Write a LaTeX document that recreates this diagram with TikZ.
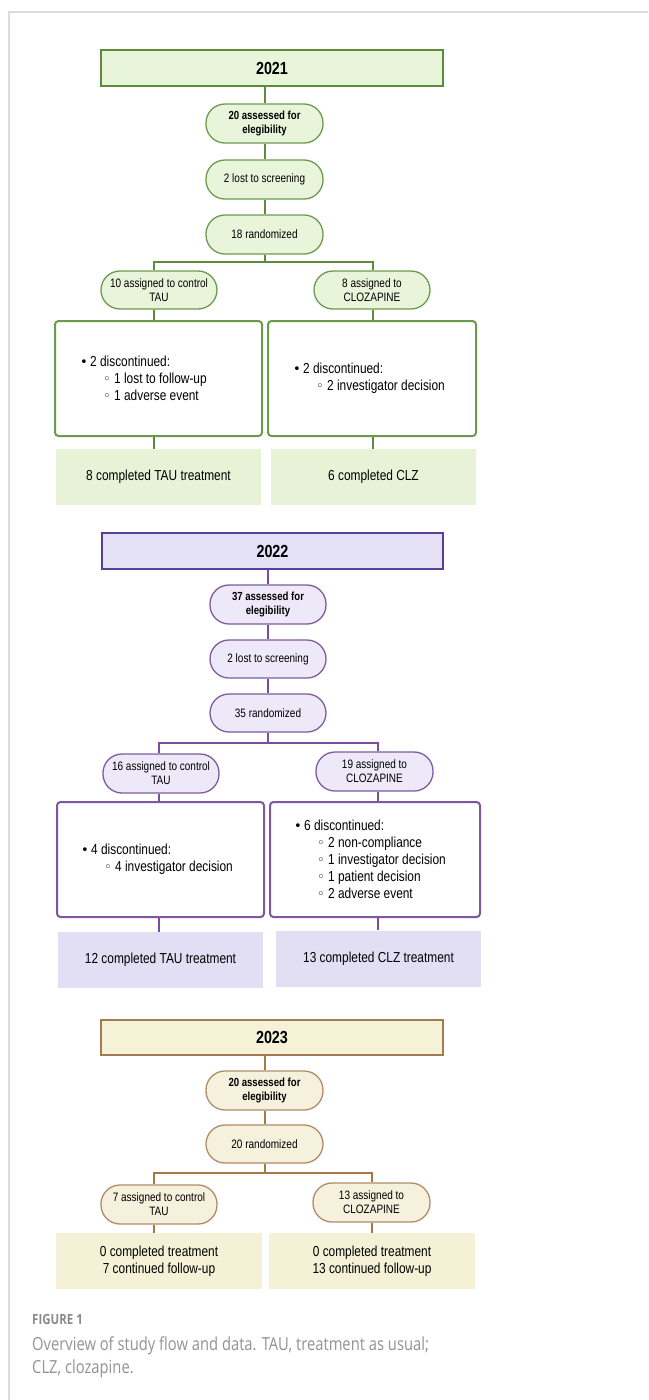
\documentclass[tikz,border=0pt]{standalone}
\usepackage{fontspec}
\setmainfont[FakeStretch=0.82]{Liberation Sans}
\newfontfamily\capfont[FakeStretch=0.82]{Open Sans}
\newfontfamily\symfont{DejaVu Sans}
\definecolor{gHd}{HTML}{5E8A3C}
\definecolor{gHf}{HTML}{E9F5DA}
\definecolor{gPb}{HTML}{6E9A4E}
\definecolor{gBb}{HTML}{6A9A4A}
\definecolor{gCf}{HTML}{E7F2D7}
\definecolor{pHd}{HTML}{5B3F96}
\definecolor{pHf}{HTML}{E4E0F6}
\definecolor{pPf}{HTML}{EEE9F8}
\definecolor{pPb}{HTML}{7D5C9F}
\definecolor{pLn}{HTML}{7A4E9C}
\definecolor{pBb}{HTML}{7E57A2}
\definecolor{pCf}{HTML}{E2DFF4}
\definecolor{bHd}{HTML}{A27B52}
\definecolor{bHf}{HTML}{F5F2D8}
\definecolor{bPf}{HTML}{F6F1DC}
\definecolor{bPb}{HTML}{B08C68}
\definecolor{bLn}{HTML}{A57845}
\definecolor{bCf}{HTML}{F4F1D6}
\definecolor{frameg}{HTML}{DCDCDC}
\definecolor{capA}{HTML}{8A8A8A}
\definecolor{capB}{HTML}{939393}
\newcommand{\Lb}[1]{\makebox[10pt][l]{\symfont\fontsize{13}{13}\selectfont •}#1}
\newcommand{\Ls}[1]{\hspace*{23pt}\makebox[11pt][l]{\symfont\fontsize{13}{13}\selectfont ◦}#1}
\tikzset{
 hdr/.style={draw, line width=2pt, minimum width=342pt, minimum height=36pt, inner sep=0pt, font=\bfseries\fontsize{17.5}{20}\selectfont},
 pill/.style={draw, line width=1.3pt, rounded corners=19pt, minimum width=117pt, minimum height=39pt, inner sep=0pt, align=center, font=\fontsize{12.2}{14}\selectfont},
 bpill/.style={pill, font=\bfseries\fontsize{11.7}{14}\selectfont},
 bigbox/.style={draw, line width=2pt, rounded corners=3.5pt, minimum width=207pt, minimum height=115pt, inner sep=0pt},
 lst/.style={align=left, inner sep=0pt, font=\fontsize{14.5}{17}\selectfont},
 done/.style={minimum width=205pt, minimum height=56pt, inner sep=0pt, align=center, font=\fontsize{14.5}{16.5}\selectfont},
 conn/.style={line width=2pt},
}
\begin{document}
\begin{tikzpicture}[x=1pt,y=-1pt]
\useasboundingbox (0,0) rectangle (648,1400);
\fill[white] (0,0) rectangle (648,1400);
\draw[line width=1.5pt, frameg] (9,1400) -- (9,12) -- (648,12);

% ---------- 2021 ----------
\node[hdr, draw=gHd, fill=gHf] (h1) at (272,68) {2021};
\node[bpill, draw=gPb, fill=gHf] (a1) at (264.5,123.5) {20 assessed for\\elegibility};
\node[pill, draw=gPb, fill=gHf] (s1) at (264.5,179.5) {2 lost to screening};
\node[pill, draw=gPb, fill=gHf] (r1) at (264.5,234.5) {18 randomized};
\node[pill, draw=gPb, fill=gHf, minimum width=116pt, minimum height=38pt] (t1) at (159,290) {10 assigned to control\\TAU};
\node[pill, draw=gPb, fill=gHf, minimum width=116pt, minimum height=38pt] (z1) at (372,290) {8 assigned to\\CLOZAPINE};
\node[bigbox, draw=gBb] (d1L) at (158.5,378.5) {};
\node[bigbox, draw=gBb, minimum width=208pt] (d1R) at (372,378.5) {};
\node[lst, anchor=west] (x1L) at ([xshift=26pt]d1L.west) {\Lb{2 discontinued:}\\\Ls{1 lost to follow-up}\\\Ls{1 adverse event}};
\node[lst, anchor=west] (x1R) at ([xshift=26pt]d1R.west) {\Lb{2 discontinued:}\\\Ls{2 investigator decision}};
\node[done, fill=gCf] (c1L) at (158.5,477) {8 completed TAU treatment};
\node[done, fill=gCf] (c1R) at (373.5,477) {6 completed CLZ};
\coordinate (j1L) at (154,262);
\coordinate (j1R) at (373,262);
\begin{scope}[conn, draw=gHd]
\draw (a1.north |- h1.south) -- (a1.north);
\draw (a1) -- (s1);
\draw (s1) -- (r1);
\draw (r1.south) -- (r1.south |- j1L);
\draw (j1L |- t1.north) -- (j1L) -- (j1R) -- (j1R |- z1.north);
\draw (j1L |- t1.south) -- (j1L |- d1L.north);
\draw (j1R |- z1.south) -- (j1R |- d1R.north);
\draw (j1L |- d1L.south) -- (j1L |- c1L.north);
\draw (j1R |- d1R.south) -- (j1R |- c1R.north);
\end{scope}

% ---------- 2022 ----------
\node[hdr, draw=pHd, fill=pHf, minimum width=341pt] (h2) at (272.5,551) {2022};
\node[bpill, draw=pPb, fill=pPf, minimum width=116pt] (a2) at (268,604.5) {37 assessed for\\elegibility};
\node[pill, draw=pPb, fill=pPf, minimum width=116pt, minimum height=38pt] (s2) at (268,659) {2 lost to screening};
\node[pill, draw=pPb, fill=pPf, minimum width=116pt, minimum height=38pt] (r2) at (268,713) {35 randomized};
\node[pill, draw=pPb, fill=pPf, minimum width=116pt] (t2) at (161,773.5) {16 assigned to control\\TAU};
\node[pill, draw=pPb, fill=pPf] (z2) at (374.5,771.5) {19 assigned to\\CLOZAPINE};
\node[bigbox, draw=pBb] (d2L) at (160.5,859.5) {};
\node[bigbox, draw=pBb, minimum width=210pt] (d2R) at (375,859.5) {};
\node[lst, anchor=west] (x2L) at ([xshift=25pt]d2L.west) {\Lb{4 discontinued:}\\\Ls{4 investigator decision}};
\node[lst, anchor=west] (x2R) at ([xshift=25pt]d2R.west) {\Lb{6 discontinued:}\\\Ls{2 non-compliance}\\\Ls{1 investigator decision}\\\Ls{1 patient decision}\\\Ls{2 adverse event}};
\node[done, fill=pCf] (c2L) at (160.5,960) {12 completed TAU treatment};
\node[done, fill=pCf] (c2R) at (378.5,958.5) {13 completed CLZ treatment};
\coordinate (j2L) at (159,743);
\coordinate (j2R) at (378,743);
\begin{scope}[conn, draw=pLn]
\draw (a2.north |- h2.south) -- (a2.north);
\draw (a2) -- (s2);
\draw (s2) -- (r2);
\draw (r2.south) -- (r2.south |- j2L);
\draw (j2L |- t2.north) -- (j2L) -- (j2R) -- (j2R |- z2.north);
\draw (j2L |- t2.south) -- (j2L |- d2L.north);
\draw (j2R |- z2.south) -- (j2R |- d2R.north);
\draw (j2L |- d2L.south) -- (j2L |- c2L.north);
\draw (j2R |- d2R.south) -- (j2R |- c2R.north);
\end{scope}

% ---------- 2023 ----------
\node[hdr, draw=bHd, fill=bHf, minimum height=35pt] (h3) at (272,1037.5) {2023};
\node[bpill, draw=bPb, fill=bPf] (a3) at (264.5,1090.5) {20 assessed for\\elegibility};
\node[pill, draw=bPb, fill=bPf, minimum height=38pt] (r3) at (264.5,1144) {20 randomized};
\node[pill, draw=bPb, fill=bPf, minimum width=116pt] (t3) at (159,1204.5) {7 assigned to control\\TAU};
\node[pill, draw=bPb, fill=bPf] (z3) at (371.5,1202.5) {13 assigned to\\CLOZAPINE};
\node[done, fill=bCf, minimum width=206pt] (c3L) at (159,1261) {0 completed treatment\\7 continued follow-up};
\node[done, fill=bCf, minimum width=206pt] (c3R) at (372,1261) {0 completed treatment\\13 continued follow-up};
\coordinate (j3L) at (154,1173);
\coordinate (j3R) at (372,1173);
\begin{scope}[conn, draw=bLn]
\draw (a3.north |- h3.south) -- (a3.north);
\draw (a3) -- (r3);
\draw (r3.south) -- (r3.south |- j3L);
\draw (j3L |- t3.north) -- (j3L) -- (j3R) -- (j3R |- z3.north);
\draw (j3L |- t3.south) -- (j3L |- c3L.north);
\draw (j3R |- z3.south) -- (j3R |- c3R.north);
\end{scope}

% ---------- caption ----------
\node[anchor=base west, inner sep=0pt, text=capA, font=\capfont\bfseries\fontsize{14}{16}\selectfont] (fig) at (32,1324) {FIGURE 1};
\node[anchor=base west, inner sep=0pt, text=capB, font=\capfont\fontsize{18}{22}\selectfont] (cap1) at (32,1350) {Overview of study flow and data. TAU, treatment as usual;};
\node[anchor=base west, inner sep=0pt, text=capB, font=\capfont\fontsize{18}{22}\selectfont] (cap2) at (32,1373.5) {CLZ, clozapine.};
\end{tikzpicture}
\end{document}
